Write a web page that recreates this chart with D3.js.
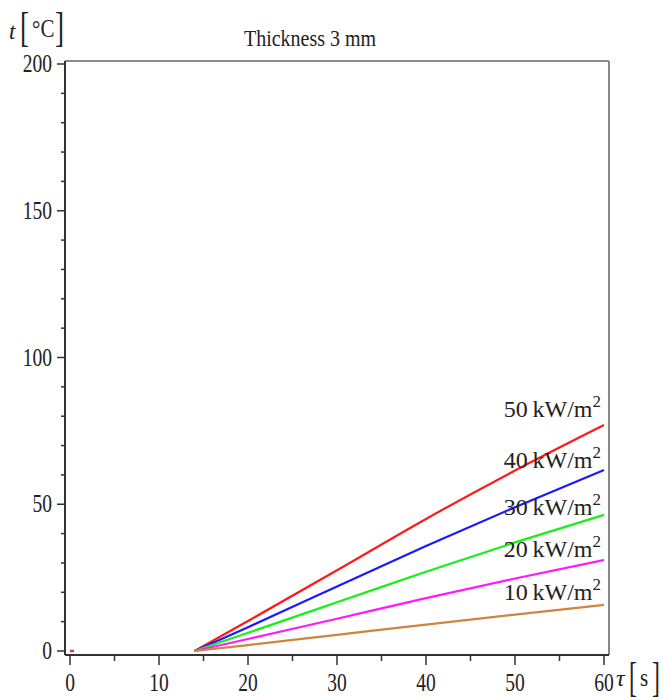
<!DOCTYPE html>
<html>
<head>
<meta charset="utf-8">
<script src="https://cdn.jsdelivr.net/npm/d3@7"></script>
<style>
  body { margin: 0; background: #fff; }
  text { font-family: "Liberation Serif", "Times New Roman", serif; fill: #222; }
</style>
</head>
<body>
<div id="chart"></div>
<script>
// data
var tau = [14, 20, 30, 40, 50, 60];
var flux50 = [0, 10.2, 27.5, 45.0, 61.5, 77.0];
var flux40 = [0, 8.1, 22.0, 35.8, 49.0, 61.7];
var flux30 = [0, 6.2, 16.6, 27.0, 37.0, 46.4];
var flux20 = [0, 4.1, 11.0, 18.0, 24.7, 31.0];
var flux10 = [0, 2.0, 5.5, 9.0, 12.4, 15.7];
var seriesNames = ["50", "40", "30", "20", "10"];
var stubTau = [0, 0.45];
var stubVal = [0, 0];
var xTicks = [0, 10, 20, 30, 40, 50, 60];
var yTicks = [0, 50, 100, 150, 200];

var svgWidth = 663;
var svgHeight = 700;
var colors = ["#ff1a1a", "#1a1aff", "#19f019", "#ff19ff", "#cd853f"];

var svg = d3.select("#chart")
  .append("svg")
  .attr("width", svgWidth)
  .attr("height", svgHeight);

var xScale = d3.scaleLinear().domain([0, 60]).range([70, 604]);
var yScale = d3.scaleLinear().domain([0, 200]).range([651, 64]);

var frameLeft = 65, frameRight = 609, frameTop = 61, frameBottom = 655;

// frame: top and right in grey
svg.append("line")
  .attr("x1", frameLeft).attr("x2", frameRight)
  .attr("y1", frameTop).attr("y2", frameTop)
  .attr("stroke", "#666").attr("stroke-width", 1.5);
svg.append("line")
  .attr("x1", frameRight).attr("x2", frameRight)
  .attr("y1", frameTop).attr("y2", frameBottom)
  .attr("stroke", "#888").attr("stroke-width", 2);

// left axis, major + minor ticks
var leftAxis = svg.append("g")
  .attr("transform", `translate(${frameLeft},0)`);
leftAxis.append("line")
  .attr("x1", 0).attr("x2", 0)
  .attr("y1", frameTop).attr("y2", frameBottom)
  .attr("stroke", "#333").attr("stroke-width", 2);
leftAxis.selectAll(".minor")
  .data(d3.range(0, 201, 10).filter(d => d % 50 !== 0))
  .enter().append("line")
  .attr("x1", -4).attr("x2", 0)
  .attr("y1", d => yScale(d)).attr("y2", d => yScale(d))
  .attr("stroke", "#333").attr("stroke-width", 1.5);
leftAxis.selectAll(".major")
  .data(yTicks)
  .enter().append("line")
  .attr("x1", -8).attr("x2", 0)
  .attr("y1", d => yScale(d)).attr("y2", d => yScale(d))
  .attr("stroke", "#333").attr("stroke-width", 1.5);
leftAxis.selectAll(".ylab")
  .data(yTicks)
  .enter().append("text")
  .attr("transform", d => `translate(-13,${yScale(d)}) scale(1,1.25)`)
  .attr("dy", "0.33em")
  .attr("text-anchor", "end")
  .attr("font-size", "19.5px")
  .text(d => d);

// bottom axis
var bottomAxis = svg.append("g")
  .attr("transform", `translate(0,${frameBottom})`);
bottomAxis.append("line")
  .attr("x1", frameLeft).attr("x2", frameRight)
  .attr("y1", 0).attr("y2", 0)
  .attr("stroke", "#333").attr("stroke-width", 2);
bottomAxis.selectAll(".minor")
  .data(d3.range(5, 60, 10))
  .enter().append("line")
  .attr("x1", d => xScale(d)).attr("x2", d => xScale(d))
  .attr("y1", 0).attr("y2", 6)
  .attr("stroke", "#333").attr("stroke-width", 1.5);
bottomAxis.selectAll(".major")
  .data(xTicks)
  .enter().append("line")
  .attr("x1", d => xScale(d)).attr("x2", d => xScale(d))
  .attr("y1", 0).attr("y2", 10)
  .attr("stroke", "#333").attr("stroke-width", 1.5);
bottomAxis.selectAll(".xlab")
  .data(xTicks)
  .enter().append("text")
  .attr("transform", d => `translate(${xScale(d)},36) scale(1,1.25)`)
  .attr("text-anchor", "middle")
  .attr("font-size", "19.5px")
  .text(d => d);

// curves
var allSeries = [flux50, flux40, flux30, flux20, flux10];
var line = d3.line()
  .x((d, i) => xScale(tau[i]))
  .y(d => yScale(d))
  .curve(d3.curveMonotoneX);

svg.selectAll(".curve")
  .data(allSeries)
  .enter().append("path")
  .attr("class", "curve")
  .attr("d", line)
  .attr("fill", "none")
  .attr("stroke", (d, i) => colors[i])
  .attr("stroke-width", 2.2);

// tiny stub at the origin
svg.append("path")
  .attr("d", d3.line().x((d, i) => xScale(stubTau[i])).y(d => yScale(d))(stubVal))
  .attr("stroke", "#c8405a")
  .attr("stroke-width", 2.5);

// curve labels
var labelNudge = [8, 2, 0, 3, 5];
var labels = svg.selectAll(".clabel")
  .data(seriesNames)
  .enter().append("text")
  .attr("class", "clabel")
  .attr("x", 601)
  .attr("y", (d, i) => yScale(allSeries[i][allSeries[i].length - 1]) - labelNudge[i])
  .attr("text-anchor", "end")
  .attr("font-size", "24px");
labels.append("tspan").text(d => d + "\u2009kW/m");
labels.append("tspan")
  .attr("dy", -10)
  .attr("font-size", "17px")
  .text("2");

// title
svg.append("text")
  .attr("transform", "translate(310,46) scale(1,1.2)")
  .attr("text-anchor", "middle")
  .attr("font-size", "20px")
  .text("Thickness 3 mm");

// y axis title t[°C]
var yTitle = svg.append("g");
yTitle.append("text")
  .attr("x", 9).attr("y", 39)
  .attr("font-size", "23px")
  .attr("font-style", "italic")
  .text("t");
yTitle.append("text")
  .attr("transform", "translate(20,41) scale(0.8,1.25)")
  .attr("font-size", "34px")
  .text("[");
yTitle.append("text")
  .attr("transform", "translate(32,37) scale(1,1.2)")
  .attr("font-size", "21px")
  .text("\u00B0C");
yTitle.append("text")
  .attr("transform", "translate(55,41) scale(0.8,1.25)")
  .attr("font-size", "34px")
  .text("]");

// x axis title τ[s]
var xTitle = svg.append("g");
xTitle.append("text")
  .attr("x", 616).attr("y", 686)
  .attr("font-size", "24px")
  .attr("font-style", "italic")
  .text("\u03C4");
xTitle.append("text")
  .attr("transform", "translate(629,691) scale(0.7,1.25)")
  .attr("font-size", "34px")
  .text("[");
xTitle.append("text")
  .attr("transform", "translate(640,686) scale(1,1.2)")
  .attr("font-size", "21px")
  .text("s");
xTitle.append("text")
  .attr("transform", "translate(652,691) scale(0.7,1.25)")
  .attr("font-size", "34px")
  .text("]");
</script>
</body>
</html>
